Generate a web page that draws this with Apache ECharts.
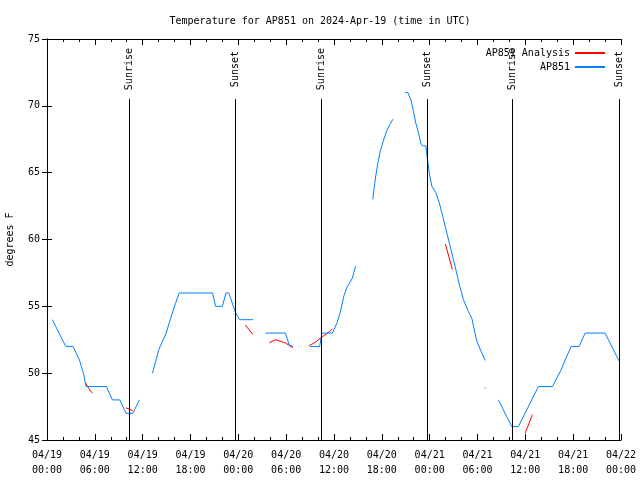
<!DOCTYPE html>
<html>
<head>
<meta charset="utf-8">
<script src="https://cdn.jsdelivr.net/npm/echarts@6/dist/echarts.min.js"></script>
<style>html,body{margin:0;padding:0;background:#fff}#c{width:640px;height:480px}</style>
</head>
<body>
<div id="c"></div>
<script>
// hours since 2024-04-19 00:00 UTC; null = gap
var apTimes = [0.67,2.35,3.27,4.06,4.57,4.9,7.45,8.2,9.13,9.92,10.76,11.6,null,
  13.23,14.0,14.2,14.95,15.45,16.1,16.6,20.77,21.15,22.0,22.45,22.8,23.6,24.15,25.84,null,
  27.4,29.9,30.4,30.85,null,
  32.95,34.2,34.5,35.8,36.4,36.8,37.25,37.65,38.3,38.7,null,
  40.87,41.0,41.2,41.5,41.8,42.25,42.6,43.0,43.4,null,
  44.92,45.26,45.67,45.96,46.26,46.59,46.93,47.21,47.52,47.72,48.0,48.27,48.77,49.18,49.65,50.15,50.69,51.19,51.69,52.23,52.79,53.29,53.58,53.91,54.33,54.96,null,
  56.62,58.3,59.13,61.64,63.4,64.45,65.0,65.75,66.75,67.5,70.0,71.76];
var apTemps = [54,52,52,51,50,49,49,48,48,47,47,48,null,
  50,51.7,52,53,54,55.2,56,56,55,55,56,56,54.6,54,54,null,
  53,53,52.1,52,null,
  52,52,53,53,53.8,54.6,55.8,56.45,57.1,58,null,
  63.0,63.7,64.6,65.7,66.6,67.5,68.1,68.6,69.0,null,
  71,71,70.4,69.6,68.7,68,67.1,67,67,66,64.8,64,63.5,62.8,61.7,60.5,59.2,58,56.7,55.5,54.7,54.1,53.3,52.4,51.8,50.95,null,
  48,46,46,49,49,50.2,51,52,52,53,53,50.9];

var anTimes = [4.86,5.18,5.68,null, 9.91,10.33,10.75,null, 24.88,25.81,null,
  27.89,28.61,29.23,29.86,30.4,30.83,null, 32.91,33.63,34.47,35.09,35.8,null,
  49.97,50.85,null, 54.9,55.02,null, 59.97,60.89];
var anTemps = [49.26,48.9,48.5,null, 47.4,47.3,47.2,null, 53.6,52.9,null,
  52.27,52.5,52.4,52.27,52.07,51.9,null, 52.07,52.3,52.7,52.95,53.3,null,
  59.66,57.76,null, 48.9,48.9,null, 45.5,46.9];

var sunTimes = [10.33,23.63,34.42,47.72,58.38,71.75];
var sunNames = ['Sunrise','Sunset','Sunrise','Sunset','Sunrise','Sunset'];

var xTickHours = [0,6,12,18,24,30,36,42,48,54,60,66,72];
var yTicks = [45,50,55,60,65,70,75];

var Y_MIN = 45, Y_MAX = 75, LABEL_ZONE = 70.5;

function zip(ts, vs){
  return ts.map(function(t,i){ return (t === null || vs[i] === null) ? '-' : [t, vs[i]]; });
}
function pad(n){ return (n<10?'0':'')+n; }
function xLabel(h){
  var day = 19 + Math.floor(h/24);
  var hh = h % 24;
  return '04/' + pad(day) + '\n' + pad(hh) + ':00';
}

var FONT = 'DejaVu Sans Mono';
var sunLines = [];
sunTimes.forEach(function(t,i){
  sunLines.push([
    {xAxis:t, yAxis:Y_MIN, name:'', label:{show:false}},
    {xAxis:t, yAxis:LABEL_ZONE}
  ]);
  sunLines.push([
    {xAxis:t, yAxis:LABEL_ZONE, name:sunNames[i], lineStyle:{color:'rgba(0,0,0,0)'}},
    {xAxis:t, yAxis:Y_MAX}
  ]);
});

var chart = echarts.init(document.getElementById('c'), null, {renderer:'canvas'});
var axisCommon = {
  type:'value', min:0, max:72, interval:6,
  axisLine:{show:true, lineStyle:{color:'#000', width:1}},
  axisTick:{show:true, inside:true, length:6, lineStyle:{color:'#000'}},
  minorTick:{show:true, splitNumber:3, length:3, lineStyle:{color:'#000'}},
  splitLine:{show:false}
};
chart.setOption({
  animation:false,
  backgroundColor:'#fff',
  title:{text:'Temperature for AP851 on 2024-Apr-19 (time in UTC)', left:'center', top:11,
    textStyle:{fontFamily:FONT, fontSize:10, fontWeight:'normal', color:'#000'}},
  legend:{orient:'vertical', right:30, top:42, align:'right', itemWidth:30, itemHeight:2, itemGap:2,
    icon:'rect',
    textStyle:{fontFamily:FONT, fontSize:10, color:'#000', lineHeight:12},
    data:['AP851 Analysis','AP851']},
  grid:{left:47, right:19, top:39, bottom:40, outerBoundsMode:'none', containLabel:false},
  xAxis:[
    Object.assign({}, axisCommon, {position:'bottom',
      axisLabel:{show:true, margin:8, fontFamily:FONT, fontSize:10, color:'#000', lineHeight:15,
        formatter:function(v){ return xTickHours.indexOf(v) >= 0 ? xLabel(v) : ''; }}}),
    Object.assign({}, axisCommon, {position:'top', axisLabel:{show:false}})
  ],
  yAxis:[
    {type:'value', min:Y_MIN, max:Y_MAX, interval:5, position:'left',
      name:'degrees F', nameLocation:'middle', nameGap:32, nameRotate:90,
      nameTextStyle:{fontFamily:FONT, fontSize:10, color:'#000'},
      axisLine:{show:true, lineStyle:{color:'#000'}},
      axisTick:{show:true, inside:true, length:5, lineStyle:{color:'#000'}},
      axisLabel:{margin:7, fontFamily:FONT, fontSize:10, color:'#000',
        formatter:function(v){ return yTicks.indexOf(v) >= 0 ? String(v) : ''; }},
      splitLine:{show:false}},
    {type:'value', min:Y_MIN, max:Y_MAX, interval:5, position:'right',
      axisLine:{show:true, lineStyle:{color:'#000'}},
      axisTick:{show:true, inside:true, length:5, lineStyle:{color:'#000'}},
      axisLabel:{show:false}, splitLine:{show:false}}
  ],
  series:[
    {name:'AP851 Analysis', type:'line', symbol:'none', connectNulls:false,
      lineStyle:{color:'#ff0000', width:1}, itemStyle:{color:'#ff0000'},
      data: zip(anTimes, anTemps), z:2},
    {name:'AP851', type:'line', symbol:'none', connectNulls:false,
      lineStyle:{color:'#0080ff', width:1}, itemStyle:{color:'#0080ff'},
      data: zip(apTimes, apTemps), z:3,
      markLine:{symbol:'none', silent:true, animation:false,
        lineStyle:{color:'#000', width:1, type:'solid'},
        label:{show:true, position:'middle', distance:0, verticalAlign:'middle', align:'center',
          fontFamily:FONT, fontSize:10, color:'#000', formatter:function(p){ return p.name; }},
        data: sunLines}}
  ]
});
</script>
</body>
</html>
